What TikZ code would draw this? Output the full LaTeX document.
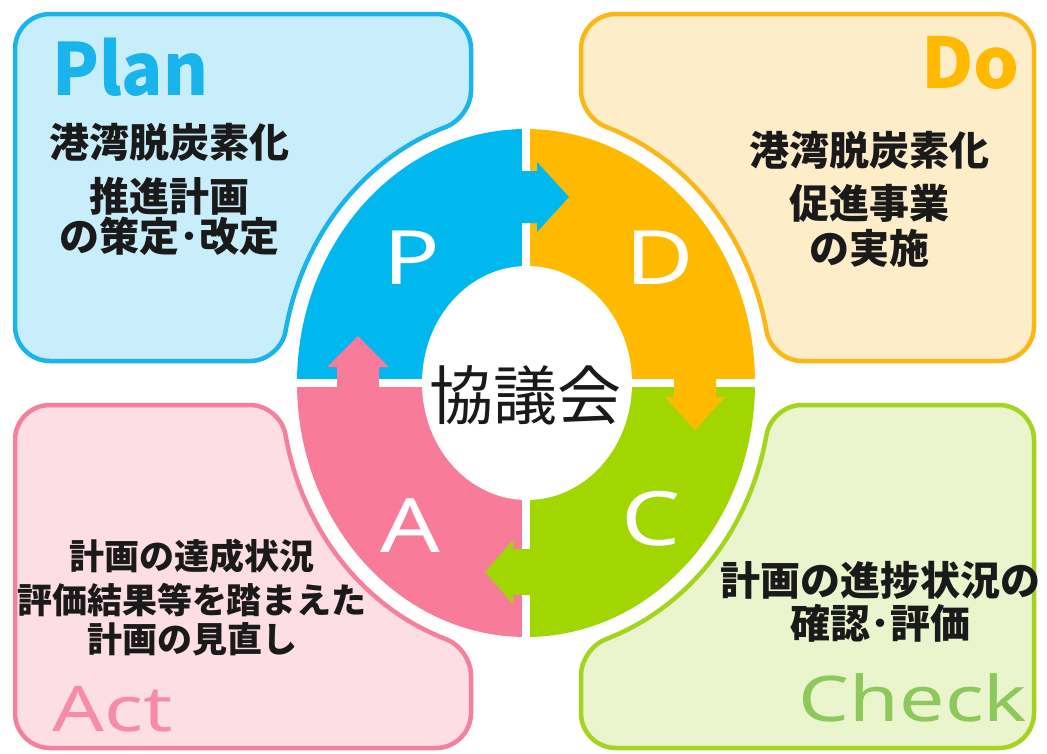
\documentclass[tikz,border=0pt]{standalone}
\usepackage{fontspec}
\setmainfont{Noto Sans}
\newfontfamily\cjk{Noto Sans CJK JP}
\definecolor{cB}{RGB}{0,183,238}
\definecolor{cBf}{RGB}{200,238,251}
\definecolor{cBl}{RGB}{25,180,235}
\definecolor{cO}{RGB}{255,186,0}
\definecolor{cOf}{RGB}{253,237,200}
\definecolor{cOl}{RGB}{250,183,22}
\definecolor{cG}{RGB}{162,214,0}
\definecolor{cGf}{RGB}{234,245,205}
\definecolor{cGl}{RGB}{165,212,30}
\definecolor{cGt}{RGB}{140,200,90}
\definecolor{cP}{RGB}{248,124,154}
\definecolor{cPf}{RGB}{253,222,229}
\definecolor{cPl}{RGB}{244,128,158}
\definecolor{cPt}{RGB}{247,140,168}
\definecolor{txt}{RGB}{26,26,26}
\newcommand\quadbox[2]{(-#1,-#2+35) arc[start angle=180,end angle=270,radius=35] -- (-90,-#2) arc[start angle=270,end angle=360,radius=35] -- (-55,-292) .. controls (-55,-277.4) and (-66.2,-261.4) .. (-79.8,-256.2) arc[start angle=251,end angle=191,x radius=245,y radius=271] .. controls (-243.4,-35.3) and (-259.3,-22) .. (-275.9,-22) -- (-#1+35,-22) arc[start angle=90,end angle=180,radius=35] -- cycle}
\tikzset{
  boxline/.style={line width=4.5pt},
  jpl/.style={font=\cjk\bfseries\fontsize{40}{48}\selectfont, inner sep=0pt, anchor=base, text=txt},
  jps/.style={font=\cjk\bfseries\fontsize{35}{42}\selectfont, inner sep=0pt, anchor=base, text=txt},
  letter/.style={font=\fontsize{75}{80}\selectfont, inner sep=0pt, text=white},
  label/.style={inner sep=0pt}
}
\begin{document}
\begin{tikzpicture}[x=1pt,y=-1pt]
\useasboundingbox (0,0) rectangle (1047,753);
\fill[white] (0,0) rectangle (1047,753);
% boxes
\begin{scope}[shift={(526,383)}]
  \filldraw[fill=cBf, draw=cBl, boxline] \quadbox{511}{369};
  \filldraw[fill=cOf, draw=cOl, boxline, xscale=-1] \quadbox{508}{369};
  \filldraw[fill=cPf, draw=cPl, boxline, yscale=-1] \quadbox{511}{365};
  \filldraw[fill=cGf, draw=cGl, boxline, xscale=-1, yscale=-1] \quadbox{508}{365};
\end{scope}
% ring quadrants
\fill[cB] (526,383) -- (297,383) arc[start angle=180,end angle=270,x radius=229,y radius=254] -- cycle;
\fill[cO] (526,383) -- (526,129) arc[start angle=270,end angle=360,x radius=229,y radius=254] -- cycle;
\fill[cG] (526,383) -- (755,383) arc[start angle=0,end angle=90,x radius=229,y radius=254] -- cycle;
\fill[cP] (526,383) -- (526,637) arc[start angle=90,end angle=180,x radius=229,y radius=254] -- cycle;
\draw[white, line width=8pt] (526,120) -- (526,646);
\draw[white, line width=8pt] (290,383) -- (762,383);
\fill[white] (527,383) ellipse[x radius=105, y radius=117];
% arrows
\fill[cB] (512,171) -- (537,171) -- (537,162) -- (569,197) -- (537,232) -- (537,223) -- (512,223) -- cycle;
\fill[cO] (674,368) -- (716,368) -- (716,397) -- (725,397) -- (695,430) -- (665,397) -- (674,397) -- cycle;
\fill[cG] (540,549) -- (513,549) -- (513,540) -- (485,572) -- (513,604) -- (513,595) -- (540,595) -- cycle;
\fill[cP] (337,396) -- (337,367) -- (327,367) -- (358,336) -- (389,367) -- (379,367) -- (379,396) -- cycle;
% ring letters
\node[letter] (lp) at (412,258) {\scalebox{1.25}[1]{P}};
\node[letter] (ld) at (660,258) {\scalebox{1.25}[1]{D}};
\node[letter] (la) at (410,526) {\scalebox{1.25}[1]{A}};
\node[letter] (lc) at (651,519) {\scalebox{1.25}[1]{C}};
% centre
\node[font=\cjk\fontsize{64}{70}\selectfont, inner sep=0pt, anchor=base, text=txt] (kyo) at (525,419) {協議会};
% labels
\node[label, anchor=base west, text=cBl, font=\cjk\bfseries\fontsize{72}{80}\selectfont] (plan) at (52,95) {\scalebox{0.95}[1]{Plan}};
\node[label, anchor=base east, text=cO, font=\cjk\bfseries\fontsize{70}{80}\selectfont] (do) at (1020,88) {\scalebox{1.03}[1]{Do}};
\node[label, anchor=base west, text=cPt, font=\fontsize{63}{70}\selectfont] (act) at (52,731) {\scalebox{1.29}[1]{Act}};
\node[label, anchor=base east, text=cGt, font=\fontsize{63}{70}\selectfont] (check) at (1027,721) {\scalebox{1.28}[1]{Check}};
% box texts
\node[jpl] (p1) at (169,157) {港湾脱炭素化};
\node[jpl] (p2) at (169,211) {推進計画};
\node[jpl] (p3) at (169,251) {の策定･改定};
\node[jpl] (d1) at (869,165) {港湾脱炭素化};
\node[jpl] (d2) at (869,218) {促進事業};
\node[jpl] (d3) at (869,263) {の実施};
\node[jps] (a1) at (192,569) {計画の達成状況};
\node[jps] (a2) at (192,613) {評価結果等を踏まえた};
\node[jps] (a3) at (192,652) {計画の見直し};
\node[jpl] (c1) at (880,595) {計画の進捗状況の};
\node[jpl] (c2) at (880,638) {確認･評価};
\end{tikzpicture}
\end{document}
